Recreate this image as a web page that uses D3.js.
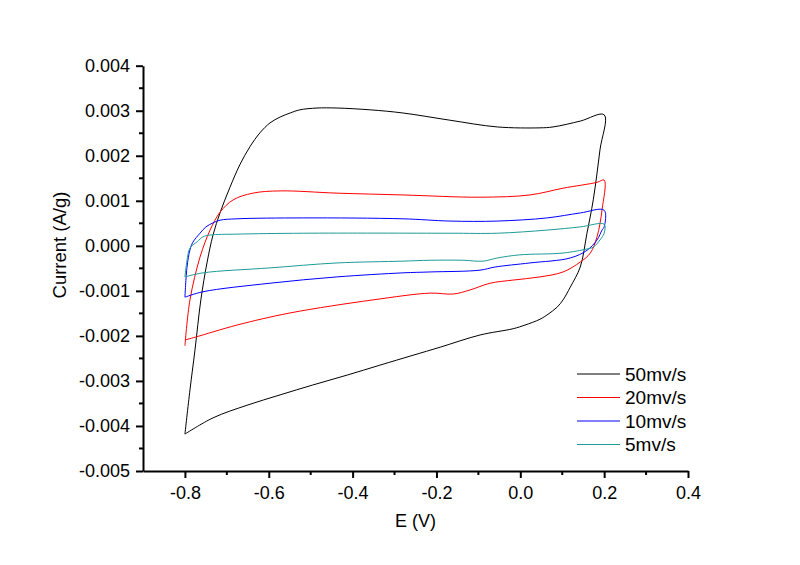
<!DOCTYPE html>
<html>
<head>
  <meta charset="utf-8">
  <title>CV curves</title>
  <script src="https://d3js.org/d3.v7.min.js"></script>
  <style>
    body { margin: 0; background: #fff; }
    text { font-family: "Liberation Sans", Arial, sans-serif; }
  </style>
</head>
<body>
  <svg width="800" height="565" id="mainsvg"></svg>
  <script>
    // tick values / labels
    const eTicks = [-0.8, -0.6, -0.4, -0.2, 0.0, 0.2, 0.4];
    const eTickLabels = ["-0.8", "-0.6", "-0.4", "-0.2", "0.0", "0.2", "0.4"];
    const eMinor = [-0.7, -0.5, -0.3, -0.1, 0.1, 0.3];
    const iTicks = [0.004, 0.003, 0.002, 0.001, 0.000, -0.001, -0.002, -0.003, -0.004, -0.005];
    const iTickLabels = ["0.004", "0.003", "0.002", "0.001", "0.000", "-0.001", "-0.002", "-0.003", "-0.004", "-0.005"];
    const iMinor = [0.0035, 0.0025, 0.0015, 0.0005, -0.0005, -0.0015, -0.0025, -0.0035, -0.0045];

    const seriesNames = ["50mv/s", "20mv/s", "10mv/s", "5mv/s"];
    const seriesColors = ["#000000", "#ff0000", "#0000ff", "#1e9b98"];

    // 50 mv/s  (potential E in V, current I in A/g)
    const e50 = [-0.800, -0.788, -0.776, -0.762, -0.747, -0.733, -0.716, -0.693, -0.669, -0.645, -0.621, -0.597, -0.573, -0.549, -0.526, -0.485, -0.437, -0.358, -0.280, -0.168, -0.055, 0.047, 0.078, 0.143, 0.200,
                 0.190, 0.174, 0.159, 0.143, 0.119, 0.102, 0.088, 0.066, 0.047, 0.011, -0.017, -0.096, -0.191, -0.256, -0.335, -0.413, -0.495, -0.573, -0.652, -0.733, -0.800];
    const i50 = [-0.00418, -0.00320, -0.00231, -0.00120, -0.00036, 0.00024, 0.00074, 0.00129, 0.00180, 0.00220, 0.00251, 0.00273, 0.00286, 0.00295, 0.00302, 0.00306, 0.00306, 0.00302, 0.00295, 0.00279, 0.00264, 0.00262, 0.00264, 0.00277, 0.00291,
                 0.00213, 0.00102, 0.00028, -0.00047, -0.00092, -0.00120, -0.00136, -0.00152, -0.00163, -0.00176, -0.00184, -0.00198, -0.00225, -0.00243, -0.00265, -0.00287, -0.00309, -0.00331, -0.00354, -0.00382, -0.00418];

    // 20 mv/s
    const e20 = [-0.800, -0.788, -0.764, -0.740, -0.716, -0.685, -0.638, -0.573, -0.437, -0.280, -0.096, 0.023, 0.102, 0.183, 0.200,
                 0.195, 0.183, 0.167, 0.143, 0.102, 0.047, -0.017, -0.072, -0.120, -0.160, -0.215, -0.351, -0.549, -0.676, -0.776, -0.800];
    const i20 = [-0.00222, -0.00120, -0.00025, 0.00035, 0.00075, 0.00102, 0.00117, 0.00122, 0.00117, 0.00113, 0.00108, 0.00113, 0.00128, 0.00141, 0.00146,
                 0.00080, 0.00020, -0.00016, -0.00036, -0.00058, -0.00069, -0.00076, -0.00083, -0.00098, -0.00107, -0.00105, -0.00120, -0.00149, -0.00176, -0.00203, -0.00209];

    // 10 mv/s
    const e10 = [-0.800, -0.795, -0.788, -0.781, -0.764, -0.750, -0.733, -0.716, -0.676, -0.518, -0.280, -0.168, -0.055, 0.064, 0.143, 0.200,
                 0.200, 0.195, 0.183, 0.159, 0.119, 0.023, -0.060, -0.096, -0.215, -0.280, -0.437, -0.597, -0.757, -0.800];
    const i10 = [-0.00114, -0.00047, -0.00009, 0.00008, 0.00028, 0.00042, 0.00051, 0.00057, 0.00060, 0.00062, 0.00060, 0.00055, 0.00055, 0.00062, 0.00073, 0.00079,
                 0.00042, 0.00035, 0.00013, -0.00010, -0.00027, -0.00038, -0.00047, -0.00054, -0.00058, -0.00060, -0.00069, -0.00083, -0.00102, -0.00114];

    // 5 mv/s
    const e5 = [-0.800, -0.795, -0.788, -0.771, -0.757, -0.740, -0.676, -0.518, -0.168, -0.055, 0.064, 0.143, 0.200,
                0.200, 0.190, 0.174, 0.159, 0.102, -0.001, -0.055, -0.089, -0.137, -0.215, -0.280, -0.437, -0.597, -0.757, -0.800];
    const i5 = [-0.00069, -0.00032, -0.00005, 0.00009, 0.00020, 0.00024, 0.00026, 0.00028, 0.00028, 0.00028, 0.00035, 0.00042, 0.00048,
                0.00028, 0.00013, -0.00003, -0.00007, -0.00016, -0.00020, -0.00027, -0.00034, -0.00032, -0.00032, -0.00034, -0.00038, -0.00049, -0.00060, -0.00069];

    const svg = d3.select('#mainsvg');
    svg.append('rect').attr('width', 800).attr('height', 565).attr('fill', '#fff');

    const xScale = d3.scaleLinear().domain([-0.9, 0.4]).range([143, 688]);
    const yScale = d3.scaleLinear().domain([-0.005, 0.004]).range([471, 65.7]);

    const series = [[e50, i50], [e20, i20], [e10, i10], [e5, i5]].map((s, k) => ({
      name: seriesNames[k],
      color: seriesColors[k],
      pts: s[0].map((e, j) => [e, s[1][j]])
    }));

    const line = d3.line()
      .x(d => xScale(d[0]))
      .y(d => yScale(d[1]))
      .curve(d3.curveCatmullRom.alpha(0.5));

    const plot = svg.append('g');
    series.forEach(s => {
      plot.append('path')
        .attr('d', line(s.pts))
        .attr('fill', 'none')
        .attr('stroke', s.color)
        .attr('stroke-width', 1);
    });

    // axes
    const xAxis = d3.axisBottom(xScale)
      .tickValues(eTicks)
      .tickFormat((d, i) => eTickLabels[i])
      .tickSize(7).tickSizeOuter(0).tickPadding(8);
    const yAxis = d3.axisLeft(yScale)
      .tickValues(iTicks)
      .tickFormat((d, i) => iTickLabels[i])
      .tickSize(7).tickSizeOuter(0).tickPadding(6);

    const gx = svg.append('g').attr('transform', 'translate(0,471)');
    gx.call(xAxis);
    gx.append('g').selectAll('line').data(eMinor).enter()
      .append('line')
      .attr('x1', d => xScale(d)).attr('x2', d => xScale(d))
      .attr('y1', 0).attr('y2', 4)
      .attr('stroke', '#000').attr('stroke-width', 2);
    const gy = svg.append('g').attr('transform', 'translate(143,0)');
    gy.call(yAxis);
    gy.append('g').selectAll('line').data(iMinor).enter()
      .append('line')
      .attr('y1', d => yScale(d)).attr('y2', d => yScale(d))
      .attr('x1', 0).attr('x2', -4)
      .attr('stroke', '#000').attr('stroke-width', 2);

    [gx, gy].forEach(g => {
      g.select('.domain').attr('stroke', '#000').attr('stroke-width', 2);
      g.selectAll('.tick line').attr('stroke', '#000').attr('stroke-width', 2);
      g.selectAll('.tick text')
        .attr('fill', '#000')
        .style('font-family', '"Liberation Sans", Arial, sans-serif')
        .style('font-size', '18px');
    });

    svg.append('text')
      .text('E (V)')
      .attr('x', (xScale.range()[0] + xScale.range()[1]) / 2)
      .attr('y', 527)
      .attr('text-anchor', 'middle')
      .attr('font-size', '18px')
      .attr('fill', '#000');

    svg.append('text')
      .text('Current (A/g)')
      .attr('transform', 'translate(66,245) rotate(-90)')
      .attr('text-anchor', 'middle')
      .attr('font-size', '18.5px')
      .attr('fill', '#000');

    // legend
    const legend = svg.append('g');
    series.forEach((s, k) => {
      const y = 374 + k * 23.5;
      legend.append('line')
        .attr('x1', 577).attr('x2', 620)
        .attr('y1', y).attr('y2', y)
        .attr('stroke', s.color).attr('stroke-width', 1);
      legend.append('text')
        .text(s.name)
        .attr('x', 625).attr('y', y)
        .attr('dy', '0.35em')
        .attr('font-size', '19px')
        .attr('fill', '#000');
    });
  </script>
</body>
</html>
